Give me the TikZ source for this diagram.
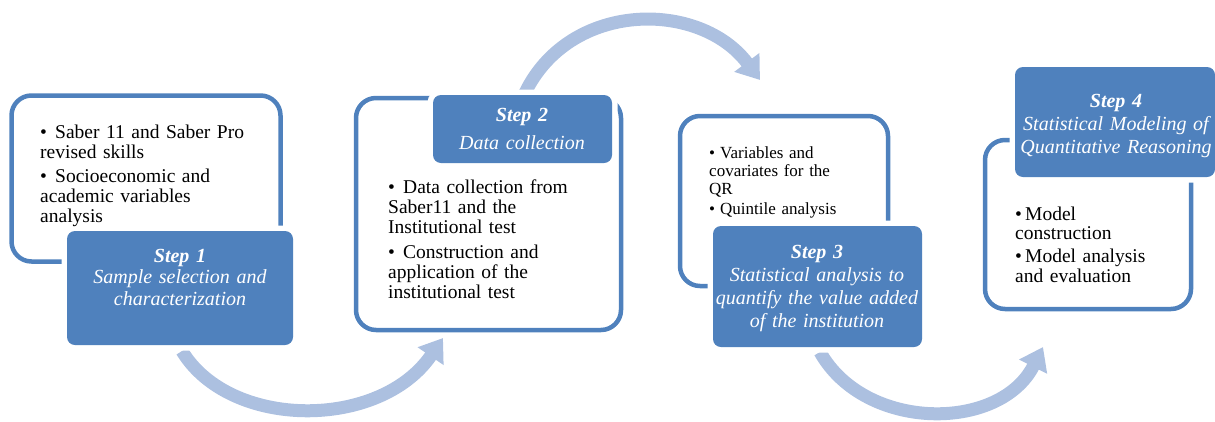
\documentclass[tikz,border=0pt]{standalone}
\usepackage{fontspec}
\setmainfont{Liberation Serif}
\usetikzlibrary{arrows.meta}
\definecolor{stepblue}{RGB}{79,129,189}
\definecolor{flowblue}{RGB}{172,192,224}
% one bullet item with a hanging indent of #1
\newcommand\bitem[2]{\noindent\hangindent=#1\hangafter=1\makebox[#1][l]{\textbullet}#2\par}
\begin{document}
\begin{tikzpicture}[x=1pt,y=-1pt,
  panel/.style={draw=stepblue, line width=4.5pt, rounded corners=20pt, inner sep=0pt, outer sep=0pt, anchor=north west},
  stepbox/.style={fill=stepblue, rounded corners=8pt, inner sep=0pt, outer sep=0pt, anchor=north west,
    preaction={draw=white, line width=11pt}},
  flow/.style={draw=flowblue, line width=13pt, -{Triangle[width=30pt,length=22pt]}},
  bullets/.style={anchor=base west, inner sep=0pt, text width=#1, align=left},
  steptext/.style={anchor=base, inner sep=0pt, text width=240pt, align=center, text=white},
]
\useasboundingbox (0,0) rectangle (1215,421);

% curved arrows linking the steps
\coordinate (f1a) at (182,351);
\coordinate (f1b) at (443,338);
\coordinate (f2a) at (525,93);
\coordinate (f2b) at (760,80);
\coordinate (f3a) at (820,352);
\coordinate (f3b) at (1043,347);
\draw[flow] (f1a) .. controls (230,430) and (380,430) .. (f1b);
\draw[flow] (f2a) .. controls (570,0) and (700,0) .. (f2b);
\draw[flow] (f3a) .. controls (865,432) and (1000,432) .. (f3b);

% outlined panels
\node[panel, minimum width=269pt, minimum height=166pt] (p1) at (11.5,95.5) {};
\node[panel, minimum width=265pt, minimum height=232pt] (p2) at (356,98) {};
\node[panel, minimum width=208pt, minimum height=170pt] (p3) at (680,116) {};
\node[panel, minimum width=206pt, minimum height=169pt] (p4) at (985,140) {};

% filled step boxes
\node[stepbox, minimum width=226pt, minimum height=114pt] (s1) at (67,231) {};
\node[stepbox, minimum width=179pt, minimum height=68pt] (s2) at (433,95) {};
\node[stepbox, minimum width=209pt, minimum height=121pt] (s3) at (713,226) {};
\node[stepbox, minimum width=200pt, minimum height=110pt] (s4) at (1015,67) {};

% panel contents
\node[bullets=240pt, font=\fontsize{19.5}{20}\selectfont] (t1) at (40,138)
  {\bitem{10pt}{\hspace{5pt}Saber 11 and Saber Pro\\revised skills}\vspace{4pt}
   \bitem{10pt}{\hspace{5pt}Socioeconomic and\\academic variables\\analysis}};
\node[bullets=230pt, font=\fontsize{19.5}{20}\selectfont] (t2) at (388,193)
  {\bitem{10pt}{\hspace{5pt}Data collection from\\Saber11 and the\\Institutional test}\vspace{5pt}
   \bitem{10pt}{\hspace{5pt}Construction and\\application of the\\institutional test}};
\node[bullets=180pt, font=\fontsize{17}{18}\selectfont] (t3) at (709,158)
  {\bitem{11pt}{Variables and\\covariates for the\\QR}\vspace{2pt}
   \bitem{11pt}{Quintile analysis}};
\node[bullets=180pt, font=\fontsize{19.5}{19.5}\selectfont] (t4) at (1015,220)
  {\bitem{10pt}{Model\\construction}\vspace{3.5pt}
   \bitem{10pt}{Model analysis\\and evaluation}};

% step captions
\node[steptext, font=\fontsize{20}{21.5}\selectfont\itshape] (c1) at (180,262)
  {\textbf{Step 1}\\Sample selection and\\characterization};
\node[steptext, font=\fontsize{20}{28}\selectfont\itshape] (c2) at (522,121)
  {\textbf{Step 2}\\Data collection};
\node[steptext, font=\fontsize{20}{23}\selectfont\itshape] (c3) at (817,258)
  {\textbf{Step 3}\\Statistical analysis to\\quantify the value added\\of the institution};
\node[steptext, font=\fontsize{20}{23}\selectfont\itshape] (c4) at (1116,107)
  {\textbf{Step 4}\\Statistical Modeling of\\Quantitative Reasoning};
\end{tikzpicture}
\end{document}
